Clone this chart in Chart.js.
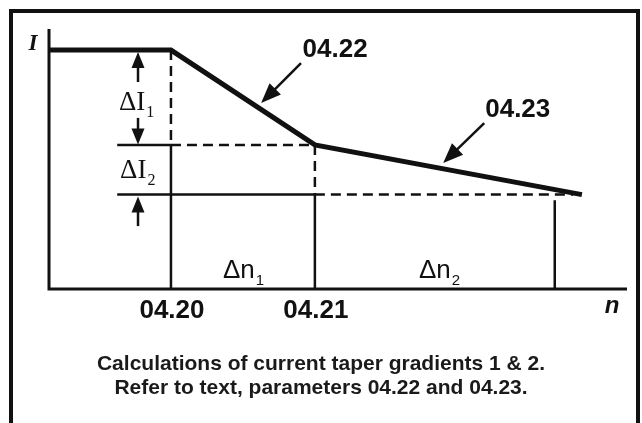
<!DOCTYPE html>
<html>
<head>
<meta charset="utf-8">
<script src="https://cdn.jsdelivr.net/npm/chart.js@4.4.1/dist/chart.umd.min.js"></script>
<style>
  html, body { margin: 0; padding: 0; background: #fff; }
  canvas { display: block; }
</style>
</head>
<body>
<canvas id="taperChart" width="642" height="423"></canvas>
<script>
// speed n (x) and current I (y), in arbitrary diagram units 0..100
const curveN = [0, 21.1, 46.0, 92.2];
const curveI = [91.9, 91.9, 55.4, 36.3];
const tickN = [21.1, 46.0];
const tickLabels = ['04.20', '04.21'];
const deltaN2End = 87.5;
const refLineStart = 11.8;
const paramLabels = ['04.22', '04.23'];
const captionLines = [
  'Calculations of current taper gradients 1 & 2.',
  'Refer to text, parameters 04.22 and 04.23.'
];

const ink = '#111';
const dash = [10, 6];

function seg(x1, y1, x2, y2, dashed) {
  return {
    data: [{ x: x1, y: y1 }, { x: x2, y: y2 }],
    borderColor: ink,
    borderWidth: 2.5,
    borderDash: dashed ? dash : [],
    borderCapStyle: 'butt',
    pointRadius: 0,
    showLine: true,
    clip: false
  };
}

const refLines = [
  // vertical at 04.20
  seg(tickN[0], curveI[1], tickN[0], curveI[2], true),
  seg(tickN[0], curveI[2], tickN[0], 0, false),
  // horizontal at knee level
  seg(refLineStart, curveI[2], tickN[0], curveI[2], false),
  seg(tickN[0], curveI[2], tickN[1], curveI[2], true),
  // horizontal at end level
  seg(refLineStart, curveI[3], tickN[1], curveI[3], false),
  seg(tickN[1], curveI[3], curveN[3] - 1.5, curveI[3], true),
  // vertical at 04.21
  seg(tickN[1], curveI[2], tickN[1], curveI[3], true),
  seg(tickN[1], curveI[3], tickN[1], 0, false),
  // end of delta n2
  seg(deltaN2End, curveI[3] - 2.2, deltaN2End, 0, false)
];

// annotation layout (diagram units)
const arrowX = 15.4;
const deltaArrows = [
  { from: 79.6, to: 91.2 },
  { from: 65.8, to: 55.6 },
  { from: 24.2, to: 35.6 }
];
const pointers = [
  { text: paramLabels[0], tx: 49.5, ty: 89.2, x1: 43.6, y1: 86.9, x2: 36.7, y2: 71.5 },
  { text: paramLabels[1], tx: 81.1, ty: 66.2, x1: 75.3, y1: 63.8, x2: 68.2, y2: 48.5 }
];
const deltaLabels = [
  { main: '\u0394I', sub: '1', x: 12.1, y: 68.8, serif: true },
  { main: '\u0394I', sub: '2', x: 12.3, y: 42.7, serif: true },
  { main: '\u0394n', sub: '1', x: 30.1, y: 4.2, serif: false },
  { main: '\u0394n', sub: '2', x: 64.0, y: 4.2, serif: false }
];

function arrowHead(ctx, x1, y1, x2, y2, len, half) {
  const a = Math.atan2(y2 - y1, x2 - x1);
  ctx.beginPath();
  ctx.moveTo(x2, y2);
  ctx.lineTo(x2 - len * Math.cos(a) + half * Math.sin(a), y2 - len * Math.sin(a) - half * Math.cos(a));
  ctx.lineTo(x2 - len * Math.cos(a) - half * Math.sin(a), y2 - len * Math.sin(a) + half * Math.cos(a));
  ctx.closePath();
  ctx.fill();
}

function arrow(ctx, x1, y1, x2, y2, len, half) {
  const a = Math.atan2(y2 - y1, x2 - x1);
  ctx.beginPath();
  ctx.moveTo(x1, y1);
  ctx.lineTo(x2 - (len - 2) * Math.cos(a), y2 - (len - 2) * Math.sin(a));
  ctx.stroke();
  arrowHead(ctx, x1, y1, x2, y2, len, half);
}

const diagramPlugin = {
  id: 'diagram',
  afterDatasetsDraw(chart) {
    const ctx = chart.ctx;
    const xs = chart.scales.x, ys = chart.scales.y;
    const area = chart.chartArea;
    const px = v => xs.getPixelForValue(v);
    const py = v => ys.getPixelForValue(v);
    ctx.save();
    ctx.strokeStyle = ink;
    ctx.fillStyle = ink;

    // frame
    ctx.lineWidth = 4;
    ctx.strokeRect(11, 11, 627, 430);

    // axes
    ctx.lineWidth = 3;
    ctx.beginPath();
    ctx.moveTo(area.left, area.top);
    ctx.lineTo(area.left, area.bottom + 1.5);
    ctx.moveTo(area.left, area.bottom);
    ctx.lineTo(area.right, area.bottom);
    ctx.stroke();

    // delta I arrows
    ctx.lineWidth = 2.5;
    deltaArrows.forEach(a => arrow(ctx, px(arrowX), py(a.from), px(arrowX), py(a.to), 16, 6.5));

    // parameter pointers
    ctx.lineWidth = 2.5;
    ctx.textAlign = 'center';
    ctx.textBaseline = 'alphabetic';
    ctx.font = 'bold 26px "Liberation Sans", Arial, sans-serif';
    pointers.forEach(p => {
      arrow(ctx, px(p.x1), py(p.y1), px(p.x2), py(p.y2), 20, 8);
      ctx.fillText(p.text, px(p.tx), py(p.ty));
    });

    // tick labels
    tickN.forEach((n, i) => ctx.fillText(tickLabels[i], px(n) + 1, area.bottom + 29));

    // axis titles
    ctx.font = 'italic bold 24px "Liberation Sans", Arial, sans-serif';
    ctx.fillText('n', area.right - 15, area.bottom + 24);
    ctx.font = 'italic bold 23px "Liberation Serif", "Times New Roman", serif';
    ctx.fillText('I', 33, 50);

    // delta labels
    ctx.textAlign = 'left';
    deltaLabels.forEach(d => {
      const fam = d.serif ? '"Liberation Serif", "Times New Roman", serif' : '"Liberation Sans", Arial, sans-serif';
      const size = d.serif ? 27 : 26;
      ctx.font = size + 'px ' + fam;
      const x = px(d.x), y = py(d.y);
      ctx.fillText(d.main, x, y);
      const w = ctx.measureText(d.main).width;
      ctx.font = (d.serif ? 16 : 15) + 'px ' + fam;
      ctx.fillText(d.sub, x + w + 1, y + 7);
    });

    // caption
    ctx.textAlign = 'center';
    ctx.font = 'bold 21px "Liberation Sans", Arial, sans-serif';
    ctx.fillStyle = '#1a1a1a';
    captionLines.forEach((line, i) => ctx.fillText(line, 321, area.bottom + 81 + i * 24));
    ctx.restore();
  }
};

const ctx = document.getElementById('taperChart').getContext('2d');
new Chart(ctx, {
  type: 'scatter',
  data: {
    datasets: [
      {
        data: curveN.map((n, i) => ({ x: n, y: curveI[i] })),
        borderColor: ink,
        borderWidth: 5,
        borderJoinStyle: 'miter',
        borderCapStyle: 'butt',
        pointRadius: 0,
        showLine: true,
        clip: false
      },
      ...refLines
    ]
  },
  options: {
    responsive: false,
    animation: false,
    devicePixelRatio: 1,
    layout: { padding: { left: 49, top: 29, right: 15, bottom: 134 } },
    plugins: { legend: { display: false }, tooltip: { enabled: false } },
    scales: {
      x: { type: 'linear', min: 0, max: 100, display: false },
      y: { type: 'linear', min: 0, max: 100, display: false }
    }
  },
  plugins: [diagramPlugin]
});
</script>
</body>
</html>
